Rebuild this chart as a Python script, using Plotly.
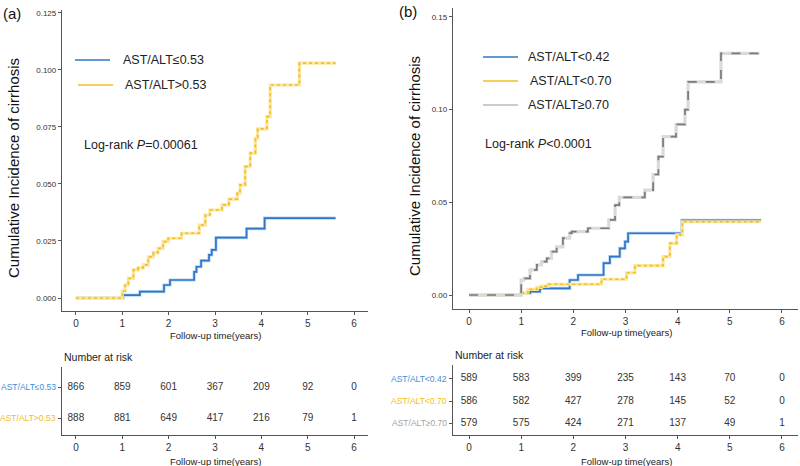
import plotly.graph_objects as go

# ---------------- data ----------------
# Panel (a) cumulative incidence step points
t_a_low = [0, 1.02, 1.38, 1.90, 2.03, 2.55, 2.60, 2.70, 2.87, 2.93, 3.02, 3.68, 4.07, 5.60]
v_a_low = [0, 0.0013, 0.0028, 0.0057, 0.0079, 0.0115, 0.0137, 0.0164, 0.0189, 0.0211, 0.0265, 0.0304, 0.0350, 0.0350]

t_a_high = [0, 1.00, 1.06, 1.13, 1.24, 1.34, 1.45, 1.56, 1.67, 1.77, 1.88, 1.99, 2.28, 2.66, 2.79, 2.89,
            3.15, 3.30, 3.48, 3.54, 3.65, 3.76, 3.87, 3.92, 4.12, 4.19, 4.82, 5.60]
v_a_high = [0, 0.0030, 0.0057, 0.0086, 0.0123, 0.0132, 0.0145, 0.0180, 0.0199, 0.0218, 0.0247, 0.0262,
            0.0284, 0.0320, 0.0364, 0.0386, 0.0408, 0.0434, 0.0460, 0.0496, 0.0576, 0.0635, 0.0700,
            0.0742, 0.0795, 0.0934, 0.1030, 0.1030]

# Panel (b)
t_b_low = [0, 1.00, 1.17, 1.36, 1.93, 2.09, 2.58, 2.70, 2.89, 2.99, 3.05, 4.08, 5.60]
v_b_low = [0, 0.0010, 0.0018, 0.0036, 0.0081, 0.0108, 0.0172, 0.0207, 0.0252, 0.0288, 0.0333, 0.0402, 0.0402]

t_b_mid = [0, 1.00, 1.13, 1.30, 1.39, 1.52, 2.54, 3.02, 3.18, 3.72, 3.85, 3.98, 4.09, 5.60]
v_b_mid = [0, 0.0010, 0.0030, 0.0041, 0.0048, 0.0058, 0.0085, 0.0120, 0.0158, 0.0207, 0.0279, 0.0324, 0.0395, 0.0395]

t_b_high = [0, 1.00, 1.05, 1.17, 1.30, 1.39, 1.49, 1.58, 1.68, 1.80, 1.93, 1.97, 2.28, 2.68, 2.80, 2.88,
            3.37, 3.53, 3.63, 3.72, 3.97, 4.14, 4.20, 4.83, 5.57]
v_b_high = [0, 0.0081, 0.0090, 0.0135, 0.0162, 0.0180, 0.0198, 0.0234, 0.0260, 0.0307, 0.0334, 0.0342,
            0.0360, 0.0405, 0.0485, 0.0527, 0.0566, 0.0650, 0.0746, 0.0854, 0.0920, 0.1000, 0.1150,
            0.1303, 0.1303]

# Number at risk tables
risk_times = [0, 1, 2, 3, 4, 5, 6]
risk_a_low = [866, 859, 601, 367, 209, 92, 0]
risk_a_high = [888, 881, 649, 417, 216, 79, 1]
risk_b_low = [589, 583, 399, 235, 143, 70, 0]
risk_b_mid = [586, 582, 427, 278, 145, 52, 0]
risk_b_high = [579, 575, 424, 271, 137, 49, 1]

labels_a = ["AST/ALT≤0.53", "AST/ALT>0.53"]
labels_b = ["AST/ALT<0.42", "AST/ALT<0.70", "AST/ALT≥0.70"]
table_labels_a = ["AST/ALT≤0.53", "AST/ALT>0.53"]
table_labels_b = ["AST/ALT<0.42", "AST/ALT<0.70", "AST/ALT≥0.70"]
pval_a = "Log-rank <i>P</i>=0.00061"
pval_b = "Log-rank <i>P</i><0.0001"

# ---------------- style ----------------
W, H = 800, 466
BLUE = "#2F76C6"
BLUE_L = "#B5D4F0"
YEL = "#F2C01E"
YEL_L = "#FAE6A0"
GRAY = "#7A7A7A"
GRAY_L = "#DADADA"
TBL_BLUE = "#3D8FD8"
TBL_YEL = "#F2BE10"
TBL_GRAY = "#A3A3A3"
AX = "#555555"
FONT = "Liberation Sans, Arial, sans-serif"


def px_x(p):
    return p / W


def px_y(p):
    return (H - p) / H


fig = go.Figure()


def add_curve(t, v, color, light, dash, xa, ya):
    fig.add_trace(go.Scatter(x=t, y=v, mode="lines", line=dict(shape="hv", color=light, width=3.2),
                             xaxis=xa, yaxis=ya, showlegend=False, hoverinfo="skip"))
    fig.add_trace(go.Scatter(x=t, y=v, mode="lines", line=dict(shape="hv", color=color, width=1.7, dash=dash),
                             xaxis=xa, yaxis=ya, showlegend=False))


add_curve(t_a_low, v_a_low, BLUE, BLUE_L, "solid", "x", "y")
add_curve(t_a_high, v_a_high, YEL, YEL_L, "dot", "x", "y")
add_curve(t_b_low, v_b_low, BLUE, BLUE_L, "solid", "x3", "y3")
add_curve(t_b_mid, v_b_mid, YEL, YEL_L, "dot", "x3", "y3")
add_curve(t_b_high, v_b_high, GRAY, GRAY_L, "dash", "x3", "y3")

# risk tables as text traces
for row, vals in zip([2, 1], [risk_a_low, risk_a_high]):
    fig.add_trace(go.Scatter(x=risk_times, y=[row] * len(vals), mode="text", text=[str(v) for v in vals],
                             textfont=dict(family=FONT, size=10, color="#333333"),
                             xaxis="x2", yaxis="y2", showlegend=False, hoverinfo="skip"))
for row, vals in zip([3, 2, 1], [risk_b_low, risk_b_mid, risk_b_high]):
    fig.add_trace(go.Scatter(x=risk_times, y=[row] * len(vals), mode="text", text=[str(v) for v in vals],
                             textfont=dict(family=FONT, size=10, color="#333333"),
                             xaxis="x4", yaxis="y4", showlegend=False, hoverinfo="skip"))

axis_common = dict(showline=True, linecolor=AX, linewidth=1.3, ticks="outside", ticklen=3,
                   tickcolor=AX, showgrid=False, zeroline=False,
                   tickfont=dict(family=FONT, size=10, color="#333333"))

fig.update_layout(
    width=W, height=H, margin=dict(l=0, r=0, t=0, b=0),
    paper_bgcolor="white", plot_bgcolor="white", showlegend=False,
    xaxis=dict(axis_common, domain=[px_x(62), px_x(368)], range=[-0.3, 6.3], tickvals=risk_times,
               anchor="y"),
    yaxis=dict(axis_common, domain=[px_y(311), px_y(10)], range=[-0.0057, 0.1263],
               tickvals=[0, 0.025, 0.05, 0.075, 0.1, 0.125], tickformat=".3f", anchor="x",
               tickfont=dict(family=FONT, size=8, color="#333333")),
    xaxis2=dict(axis_common, domain=[px_x(62), px_x(368)], range=[-0.3, 6.3], tickvals=risk_times,
                anchor="y2"),
    yaxis2=dict(axis_common, domain=[px_y(435), px_y(367)], range=[0.452, 2.645], tickvals=[1, 2],
                showticklabels=False, anchor="x2"),
    xaxis3=dict(axis_common, domain=[px_x(453), px_x(798)], range=[-0.307, 6.307], tickvals=risk_times,
                anchor="y3"),
    yaxis3=dict(axis_common, domain=[px_y(309), px_y(8)], range=[-0.00755, 0.1548],
                tickvals=[0, 0.05, 0.1, 0.15], tickformat=".2f", anchor="x3",
                tickfont=dict(family=FONT, size=8, color="#333333")),
    xaxis4=dict(axis_common, domain=[px_x(453), px_x(798)], range=[-0.307, 6.307], tickvals=risk_times,
                anchor="y4"),
    yaxis4=dict(axis_common, domain=[px_y(435), px_y(365)], range=[0.4545, 3.636], tickvals=[1, 2, 3],
                showticklabels=False, anchor="x4"),
)

ann = []


def text(x, y, s, size=11, color="#222222", xanchor="center", yanchor="middle", angle=0):
    ann.append(dict(x=px_x(x), y=px_y(y), xref="paper", yref="paper", text=s, showarrow=False,
                    font=dict(family=FONT, size=size, color=color), xanchor=xanchor, yanchor=yanchor,
                    textangle=angle))


# panel labels
text(12, 13, "(a)", size=15, color="#111111")
text(408, 11, "(b)", size=15, color="#111111")
# y titles
text(14, 168, "Cumulative Incidence of cirrhosis", size=15, color="#111111", angle=-90)
text(414, 166, "Cumulative Incidence of cirrhosis", size=15, color="#111111", angle=-90)
# x titles
text(215, 335, "Follow-up time(years)", size=9.5)
text(626, 332, "Follow-up time(years)", size=9.5)
text(215, 461, "Follow-up time(years)", size=9.5)
text(626, 461, "Follow-up time(years)", size=9.5)
# number at risk
text(62, 357, "Number at risk", size=10.5, xanchor="left")
text(453, 355, "Number at risk", size=10.5, xanchor="left")
# table row labels
for lab, y, c in zip(table_labels_a, [387, 418], [TBL_BLUE, TBL_YEL]):
    text(58, y, lab, size=8.5, color=c, xanchor="right")
for lab, y, c in zip(table_labels_b, [379, 401, 423], [TBL_BLUE, TBL_YEL, TBL_GRAY]):
    text(449, y, lab, size=8.5, color=c, xanchor="right")
# p-values
text(82, 145, pval_a, size=12.5, color="#222222", xanchor="left")
text(483, 144, pval_b, size=12.5, color="#222222", xanchor="left")

# legends (line samples + labels)
shapes = []
leg_a = [(60, 75, 110, BLUE, 121), (85, 78, 113, YEL, 123)]
for (y, x0, x1, c, tx), lab in zip(leg_a, labels_a):
    shapes.append(dict(type="line", xref="paper", yref="paper", x0=px_x(x0), x1=px_x(x1),
                       y0=px_y(y), y1=px_y(y), line=dict(color=c, width=1.5)))
    text(tx, y, lab, size=12.5, color="#222222", xanchor="left")
leg_b = [(57, 483, 518, BLUE, 526), (81, 483, 518, YEL, 528), (105, 483, 518, "#BBBBBB", 526)]
for (y, x0, x1, c, tx), lab in zip(leg_b, labels_b):
    shapes.append(dict(type="line", xref="paper", yref="paper", x0=px_x(x0), x1=px_x(x1),
                       y0=px_y(y), y1=px_y(y), line=dict(color=c, width=1.5)))
    text(tx, y, lab, size=12.5, color="#222222", xanchor="left")

fig.update_layout(annotations=ann, shapes=shapes)
fig.write_html("out.html", config={"displayModeBar": False},
               post_script="document.body.style.margin='0';document.body.style.overflow='hidden';")
